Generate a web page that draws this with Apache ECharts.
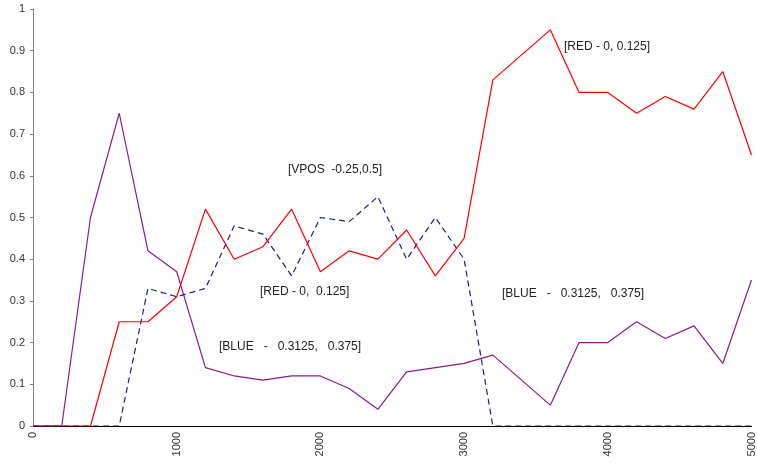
<!DOCTYPE html>
<html>
<head>
<meta charset="utf-8">
<script src="https://cdn.jsdelivr.net/npm/echarts@6/dist/echarts.min.js"></script>
<style>
  html, body { margin: 0; padding: 0; background: #fff; }
  #chart { width: 757px; height: 465px; }
</style>
</head>
<body>
<div id="chart"></div>
<script>
const xs = [0, 200, 400, 600, 800, 1000, 1200, 1400, 1600, 1800, 2000, 2200, 2400,
  2600, 2800, 3000, 3200, 3400, 3600, 3800, 4000, 4200, 4400, 4600, 4800, 5000];
const red = [0, 0, 0, 0.25, 0.25, 0.31, 0.52, 0.40, 0.43, 0.52, 0.37, 0.42, 0.40,
  0.47, 0.36, 0.45, 0.83, 0.89, 0.95, 0.80, 0.80, 0.75, 0.79, 0.76, 0.85, 0.65];
const blue = [0, 0, 0, 0, 0.33, 0.31, 0.33, 0.48, 0.46, 0.36, 0.50, 0.49, 0.55,
  0.40, 0.50, 0.40, 0, 0, 0, 0, 0, 0, 0, 0, 0, 0];
const purple = [0, 0, 0.50, 0.75, 0.42, 0.37, 0.14, 0.12, 0.11, 0.12, 0.12, 0.09, 0.04,
  0.13, 0.14, 0.15, 0.17, 0.11, 0.05, 0.20, 0.20, 0.25, 0.21, 0.24, 0.15, 0.35];
const notes = [
  { text: '[VPOS  -0.25,0.5]', x: 288, y: 164 },
  { text: '[RED - 0,  0.125]', x: 260, y: 286 },
  { text: '[BLUE   -   0.3125,   0.375]', x: 219, y: 341 },
  { text: '[RED - 0, 0.125]', x: 564, y: 41 },
  { text: '[BLUE   -   0.3125,   0.375]', x: 502, y: 288 }
];

const pairs = arr => xs.map((x, i) => [x, arr[i]]);
const chart = echarts.init(document.getElementById('chart'));
const font = 'Liberation Sans, Arial, sans-serif';

chart.setOption({
  animation: false,
  grid: { left: 33, right: 5, top: 9, bottom: 39 },
  xAxis: {
    type: 'value', min: 0, max: 5000, interval: 1000,
    axisLine: { lineStyle: { color: '#000' } },
    axisTick: { show: false },
    splitLine: { show: false },
    axisLabel: { rotate: 90, color: '#333', fontSize: 11, fontFamily: font, margin: 6,
      formatter: v => String(v) }
  },
  yAxis: {
    type: 'value', min: 0, max: 1, interval: 0.1,
    axisLine: { show: true, lineStyle: { color: '#808080' } },
    axisTick: { show: true, length: 3, lineStyle: { color: '#808080' } },
    splitLine: { show: false },
    axisLabel: { color: '#333', fontSize: 11, fontFamily: font, margin: 8 }
  },
  series: [
    { type: 'line', data: pairs(blue), symbol: 'none',
      lineStyle: { color: '#1c1c8c', width: 1.2, type: [6, 4] } },
    { type: 'line', data: pairs(red), symbol: 'none',
      lineStyle: { color: '#ff0000', width: 1.2 } },
    { type: 'line', data: pairs(purple), symbol: 'none',
      lineStyle: { color: '#8b1a8b', width: 1.2 } }
  ],
  graphic: notes.map(n => ({
    type: 'text', left: n.x, top: n.y,
    style: { text: n.text, fill: '#222', font: '12px ' + font }
  }))
});
</script>
</body>
</html>
